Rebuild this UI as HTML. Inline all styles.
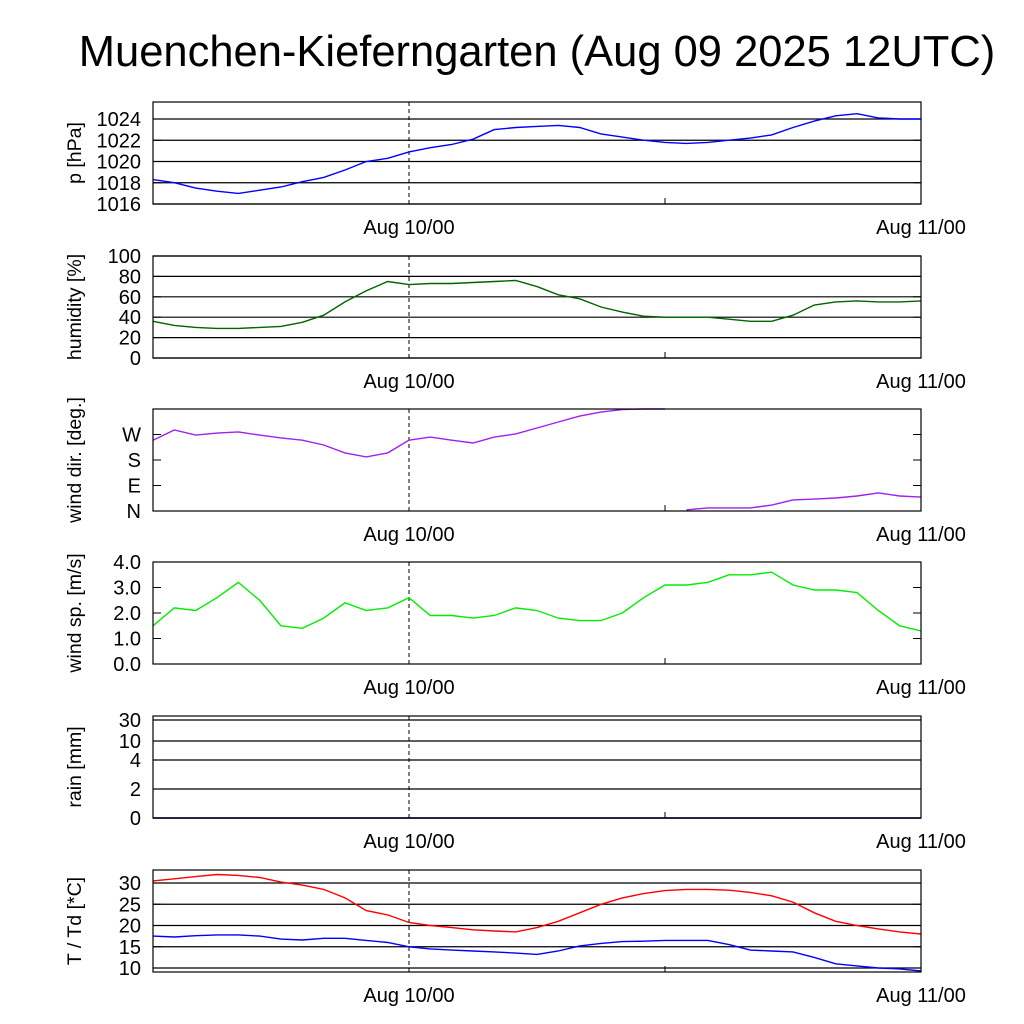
<!DOCTYPE html>
<html><head><meta charset="utf-8"><style>
html,body{margin:0;padding:0;background:#fff;}
svg{display:block;font-family:"Liberation Sans",sans-serif;}
</style></head><body>
<svg id="c" width="1024" height="1024" viewBox="0 0 1024 1024">
<text x="537" y="66" font-size="43.5" text-anchor="middle">Muenchen-Kieferngarten (Aug 09 2025 12UTC)</text>
</svg>
<script>
const hours=[0,1,2,3,4,5,6,7,8,9,10,11,12,13,14,15,16,17,18,19,20,21,22,23,24,25,26,27,28,29,30,31,32,33,34,35,36];
const pressure=[1018.3,1018.0,1017.5,1017.2,1017.0,1017.3,1017.6,1018.1,1018.5,1019.2,1020.0,1020.3,1020.9,1021.3,1021.6,1022.1,1023.0,1023.2,1023.3,1023.4,1023.2,1022.6,1022.3,1022.0,1021.8,1021.7,1021.8,1022.0,1022.2,1022.5,1023.2,1023.8,1024.3,1024.5,1024.1,1024.0,1024.0];
const humidity=[36,32,30,29,29,30,31,35,42,55,66,75,72,73,73,74,75,76,70,62,58,50,45,41,40,40,40,38,36,36,42,52,55,56,55,55,56];
const windDir=[250,286,268,275,279,268,258,250,233,205,191,205,250,261,250,240,261,272,293,314,335,349,358,360,360,4,11,11,11,21,39,42,46,53,64,53,49];
const windSpeed=[1.5,2.2,2.1,2.6,3.2,2.5,1.5,1.4,1.8,2.4,2.1,2.2,2.6,1.9,1.9,1.8,1.9,2.2,2.1,1.8,1.7,1.7,2.0,2.6,3.1,3.1,3.2,3.5,3.5,3.6,3.1,2.9,2.9,2.8,2.1,1.5,1.3];
const rain=[0,0,0,0,0,0,0,0,0,0,0,0,0,0,0,0,0,0,0,0,0,0,0,0,0,0,0,0,0,0,0,0,0,0,0,0,0];
const temp=[30.5,31,31.5,32,31.8,31.3,30.2,29.5,28.5,26.5,23.5,22.5,20.7,20,19.5,19,18.7,18.5,19.5,21,23,25,26.5,27.5,28.2,28.5,28.5,28.3,27.8,27,25.5,23,21,20,19.2,18.5,18];
const dewpoint=[17.5,17.3,17.6,17.8,17.8,17.5,16.8,16.6,17.0,17.0,16.5,16.0,15.0,14.5,14.2,14.0,13.8,13.5,13.2,14.0,15.2,15.8,16.2,16.3,16.5,16.5,16.5,15.5,14.2,14.0,13.8,12.5,11.0,10.5,10.0,9.8,9.3];
const pTicks=[1016,1018,1020,1022,1024];
const hTicks=[0,20,40,60,80,100];
const dTicks=[0,90,180,270];const dLabels=["N","E","S","W"];
const sTicks=[0,1,2,3,4];const sLabels=["0.0","1.0","2.0","3.0","4.0"];
const rTicks=[0,2,4,10,30];
const tTicks=[10,15,20,25,30];
const xTickHours=[12,36];const xTickLabels=["Aug 10/00","Aug 11/00"];

const svg=document.getElementById('c');const NS='http://www.w3.org/2000/svg';
const X0=153,X1=921;
const xs=h=>X0+h/36*(X1-X0);
function el(t,a,p){const e=document.createElementNS(NS,t);for(const k in a)e.setAttribute(k,a[k]);(p||svg).appendChild(e);return e;}
function lin(d0,d1,r0,r1){return v=>r0+(v-d0)/(d1-d0)*(r1-r0);}
function rainY(v){const dv=[0,2,4,10,30],ry=[818,789,760,741,720];for(let i=0;i<4;i++){if(v<=dv[i+1])return ry[i]+(v-dv[i])/(dv[i+1]-dv[i])*(ry[i+1]-ry[i]);}return 716;}

function panel(name,top,bot,ys,ticks,labels,grid,title,series){
  const g=el('g',{});
  
  
  if(grid){ticks.forEach(t=>{const l=el('line',{x1:X0,x2:X1,y1:ys(t),y2:ys(t),stroke:'#000','stroke-width':1.2},g);});}
  ticks.forEach((t,i)=>{
    el('line',{x1:X0,x2:X0+8,y1:ys(t),y2:ys(t),stroke:'#000'},g);
    el('line',{x1:X1-8,x2:X1,y1:ys(t),y2:ys(t),stroke:'#000'},g);
    const tx=el('text',{x:X0-12,y:ys(t)+7,'font-size':20,'text-anchor':'end'},g);tx.textContent=labels?labels[i]:t;
    
  });
  const dl=el('line',{x1:xs(12),x2:xs(12),y1:top,y2:bot,stroke:'#000','stroke-dasharray':'4,3'},g);
  
  el('line',{x1:xs(24),x2:xs(24),y1:bot-6,y2:bot,stroke:'#000'},g);
  series.forEach(s=>{
    let d='';let prev=null;
    s.vals.forEach((v,i)=>{const x=xs(hours[i]),y=s.y(v);const brk=s.wrap&&prev!==null&&Math.abs(v-prev)>180;d+=(d===''||brk?'M':'L')+x.toFixed(1)+','+y.toFixed(1);prev=v;});
    const p=el('path',{d:d,fill:'none',stroke:s.color,'stroke-width':1.4},g);
    
  });
  const fr=el('rect',{x:X0,y:top,width:X1-X0,height:bot-top,fill:'none',stroke:'#000','stroke-width':1.2},g);
  
  const cy=(top+bot)/2;
  const yt=el('text',{x:0,y:0,'font-size':19.5,'text-anchor':'middle',transform:`translate(81,${cy}) rotate(-90)`},g);yt.textContent=title;
  
  xTickHours.forEach((h,i)=>{const t=el('text',{x:xs(h),y:bot+30,'font-size':20,'text-anchor':'middle'},g);t.textContent=xTickLabels[i];
    });
}
const yp=lin(1016,1025.6,204,102);
panel('pressure',102,204,yp,pTicks,null,true,'p [hPa]',[{vals:pressure,y:yp,color:'#0000ff',name:'pressure-line'}]);
const yh=lin(0,100,358,256);
panel('humidity',256,358,yh,hTicks,null,true,'humidity [%]',[{vals:humidity,y:yh,color:'#006400',name:'humidity-line'}]);
const yd=lin(0,360,511,409);
panel('wind-direction',409,511,yd,dTicks,dLabels,false,'wind dir. [deg.]',[{vals:windDir,y:yd,color:'#a020f0',name:'wind-direction-line',wrap:true}]);
const yw=lin(0,4,664,562);
panel('wind-speed',562,664,yw,sTicks,sLabels,false,'wind sp. [m/s]',[{vals:windSpeed,y:yw,color:'#00ee00',name:'wind-speed-line'}]);
panel('rain',716,818,rainY,rTicks,null,true,'rain [mm]',[{vals:rain,y:rainY,color:'#000080',name:'rain-line'}]);
const yT=lin(10,30,968,883);
panel('temperature',870,972,yT,tTicks,null,true,'T / Td [*C]',[{vals:temp,y:yT,color:'#ff0000',name:'temperature-line'},{vals:dewpoint,y:yT,color:'#0000ff',name:'dewpoint-line'}]);
</script>
</body></html>
